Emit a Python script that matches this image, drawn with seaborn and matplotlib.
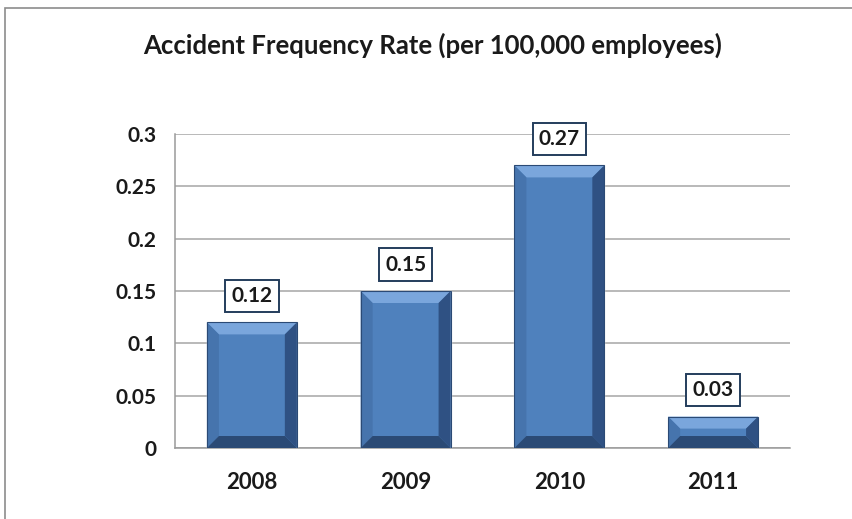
import matplotlib
matplotlib.use("Agg")
import matplotlib.pyplot as plt
from matplotlib.patches import Polygon, Rectangle
import seaborn as sns
import pandas as pd

# chart data
years = ["2008", "2009", "2010", "2011"]
rates = [0.12, 0.15, 0.27, 0.03]
value_labels = ["0.12", "0.15", "0.27", "0.03"]
y_ticks = [0, 0.05, 0.1, 0.15, 0.2, 0.25, 0.3]
y_tick_labels = ["0", "0.05", "0.1", "0.15", "0.2", "0.25", "0.3"]
title = "Accident Frequency Rate (per 100,000 employees)"

sns.set_style("white")
plt.rcParams["font.family"] = ["Lato", "DejaVu Sans"]

df = pd.DataFrame({"year": years, "rate": rates})

fig = plt.figure(figsize=(8.52, 5.19), dpi=100)
ax = fig.add_axes([0.2054, 0.1368, 0.7218, 0.605])

# outer chart border
fig.patches.append(Rectangle((0.006, -0.01), 1.1, 0.995, transform=fig.transFigure,
                             fill=False, edgecolor="#8c8c8c", linewidth=1.2))

sns.barplot(data=df, x="year", y="rate", color="#4f81bd", saturation=1,
            width=0.585, ax=ax, zorder=3)

ax.set_ylim(0, 0.3)
ax.set_xlim(-0.5, 3.5)
ax.set_yticks(y_ticks)
ax.set_yticklabels(y_tick_labels)
ax.set_xlabel("")
ax.set_ylabel("")
ax.yaxis.grid(True, color="#a6a6a6", linewidth=1.1, zorder=0)
ax.set_axisbelow(True)
for s in ["top", "right"]:
    ax.spines[s].set_visible(False)
for s in ["left", "bottom"]:
    ax.spines[s].set_color("#9a9a9a")
    ax.spines[s].set_linewidth(1.1)

ax.tick_params(axis="y", length=6, color="#9a9a9a", direction="out", pad=7,
               labelsize=15)
ax.tick_params(axis="x", length=0, pad=17, labelsize=16)
ax.set_xticks([-0.5, 0.5, 1.5, 2.5, 3.5], minor=True)
ax.tick_params(axis="x", which="minor", length=6, color="#9a9a9a", direction="out")
for t in ax.get_xticklabels() + ax.get_yticklabels():
    t.set_fontweight("bold")
    t.set_color("#1a1a1a")

fig.text(0.508, 0.912, title, ha="center", va="center", fontsize=18.5,
         fontweight="bold", color="#1a1a1a")

# bevel shading for each bar, computed from the bar patches
fig.canvas.draw()
to_px = ax.transData
to_data = ax.transData.inverted()
for bar, lab in zip(ax.patches, value_labels):
    x0, y0 = bar.get_x(), bar.get_y()
    x1, y1 = x0 + bar.get_width(), y0 + bar.get_height()
    (px0, py0), (px1, py1) = to_px.transform([(x0, y0), (x1, y1)])
    d = min(12, (py1 - py0) / 2.0, (px1 - px0) / 2.0)
    outer = [(px0, py0), (px1, py0), (px1, py1), (px0, py1)]
    inner = [(px0 + d, py0 + d), (px1 - d, py0 + d), (px1 - d, py1 - d), (px0 + d, py1 - d)]
    faces = [
        ([outer[3], outer[2], inner[2], inner[3]], "#7aa6dc"),  # top
        ([outer[0], outer[3], inner[3], inner[0]], "#4674ad"),  # left
        ([outer[1], outer[2], inner[2], inner[1]], "#2f5183"),  # right
        ([outer[0], outer[1], inner[1], inner[0]], "#2b4a75"),  # bottom
    ]
    for pts, col in faces:
        ax.add_patch(Polygon(to_data.transform(pts), closed=True, facecolor=col,
                             edgecolor="none", zorder=4))
    ax.add_patch(Polygon(to_data.transform(outer), closed=True, fill=False,
                         edgecolor="#2b4a75", linewidth=0.8, zorder=5))
    ax.annotate(lab, ((x0 + x1) / 2, y1), xytext=(0, 19), textcoords="offset points",
                ha="center", va="center", fontsize=15, fontweight="bold",
                color="#1a1a1a", zorder=6,
                bbox=dict(boxstyle="square,pad=0.3", facecolor="white",
                          edgecolor="#243d5c", linewidth=1.4))

fig.savefig("out.png", dpi=100)
